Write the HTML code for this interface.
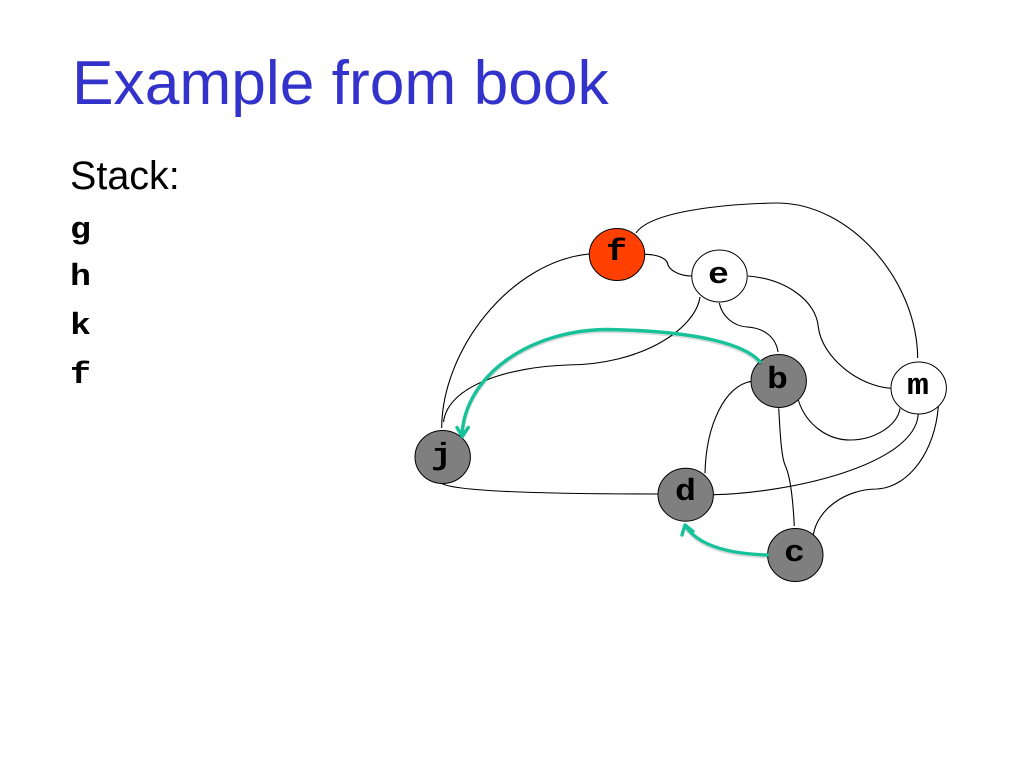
<!DOCTYPE html>
<html><head><meta charset="utf-8"><style>
html,body{margin:0;padding:0;background:#fff}
svg{display:block}
.m{font-family:"Liberation Mono",monospace;font-weight:bold;font-size:31px;fill:#000}
.e{fill:none;stroke:#000;stroke-width:1.1}
.g{fill:none;stroke:#17c19a;stroke-width:3.4;stroke-linecap:round;stroke-linejoin:round}
.s{fill:none;stroke:#000;stroke-opacity:.14;stroke-width:4;stroke-linecap:round;stroke-linejoin:round}
</style></head><body>
<svg width="1024" height="768" viewBox="0 0 1024 768" xmlns="http://www.w3.org/2000/svg">
<rect width="1024" height="768" fill="#fff"/>
<text x="72" y="104" font-family="Liberation Sans, sans-serif" font-size="62.3" fill="#3333cc">Example from book</text>
<text x="70" y="189" font-family="Liberation Sans, sans-serif" font-size="39.5" fill="#000">Stack:</text>
<text x="70" y="238" class="m" textLength="21" lengthAdjust="spacingAndGlyphs">g</text>
<text x="70" y="285" class="m" textLength="21" lengthAdjust="spacingAndGlyphs">h</text>
<text x="70" y="334" class="m" textLength="21" lengthAdjust="spacingAndGlyphs">k</text>
<text x="70" y="383" class="m" textLength="21" lengthAdjust="spacingAndGlyphs">f</text>

<path class="e" d="M636 233C650 212 720 204 777 203C850 203 917 280 917.7 358"/>
<path class="e" d="M589 254C510 262 442 350 441.7 428"/>
<path class="e" d="M645 254.3C655 254.5 667 257 668 265C671 272 682 276 691.7 276"/>
<path class="e" d="M700 297C695 330 640 365 567 365C510 367 448 385 443.5 422"/>
<path class="e" d="M719.3 303C722 316 733 326 747 327C765 328 776 338 778 352"/>
<path class="e" d="M748 276C785 279 816 300 818.3 327C822 358 860 387 891.7 388.3"/>
<path class="e" d="M798.3 400C806 425 828 440 850 440C875 440 898 425 900 408.3"/>
<path class="e" d="M751.7 381.3C725 385 706 425 705 473.3"/>
<path class="e" d="M778.7 408.3C780 430 781 455 785 465C790 475 793 500 794.3 526"/>
<path class="e" d="M713.3 494.7C790 493 915 465 918.3 414"/>
<path class="e" d="M813.3 535C817 510 845 489 877 489C910 487 935 450 938.3 406.7"/>
<path class="e" d="M441.7 483.3C455 492 560 494 658.3 494"/>

<ellipse cx="617" cy="254.5" rx="27.7" ry="26" fill="#ff4000" stroke="#000" stroke-width="1"/>
<ellipse cx="719.5" cy="276" rx="27.7" ry="26" fill="#fff" stroke="#000" stroke-width="1"/>
<ellipse cx="778.7" cy="381" rx="27.7" ry="26.5" fill="#7f7f7f" stroke="#000" stroke-width="1"/>
<ellipse cx="918.7" cy="388" rx="27.7" ry="26" fill="#fff" stroke="#000" stroke-width="1"/>
<ellipse cx="442.7" cy="457" rx="27.7" ry="26.5" fill="#7f7f7f" stroke="#000" stroke-width="1"/>
<ellipse cx="685.7" cy="494.7" rx="27.7" ry="26.5" fill="#7f7f7f" stroke="#000" stroke-width="1"/>
<ellipse cx="795.3" cy="555" rx="27.7" ry="26.5" fill="#7f7f7f" stroke="#000" stroke-width="1"/>

<path class="s" transform="translate(0 1.5)" d="M760 361.7C745 345 700 331 607 329.5C530 330 465 375 462 435"/>
<path class="s" transform="translate(0 1.5)" d="M767.3 555C735 554 700 548 685.5 526"/>
<path class="g" d="M760 361.7C745 345 700 331 607 329.5C530 330 465 375 462 435"/>
<path class="g" d="M457 427.5L462.3 436.5L468.3 427.5"/>
<path class="g" d="M767.3 555C735 554 700 548 685.5 526"/>
<path class="g" d="M682 535L685 525L693 531.5"/>

<text x="606" y="260" class="m" textLength="21" lengthAdjust="spacingAndGlyphs">f</text>
<text x="708" y="283" class="m" textLength="21" lengthAdjust="spacingAndGlyphs">e</text>
<text x="767" y="388" class="m" textLength="21" lengthAdjust="spacingAndGlyphs">b</text>
<text x="907" y="394" class="m" textLength="22" lengthAdjust="spacingAndGlyphs">m</text>
<text x="431" y="464" class="m" textLength="21" lengthAdjust="spacingAndGlyphs">j</text>
<text x="675" y="500" class="m" textLength="21" lengthAdjust="spacingAndGlyphs">d</text>
<text x="784" y="561" class="m" textLength="21" lengthAdjust="spacingAndGlyphs">c</text>
</svg>
</body></html>
